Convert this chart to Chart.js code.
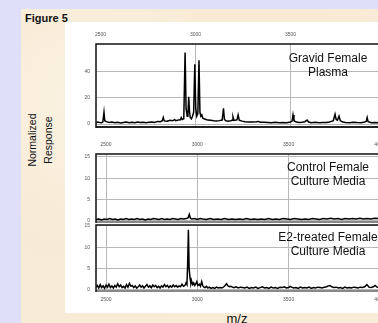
<!DOCTYPE html>
<html>
<head>
<meta charset="utf-8">
<script src="https://cdn.jsdelivr.net/npm/chart.js@4"></script>
<style>
  html, body { margin: 0; padding: 0; }
  body { width: 378px; height: 323px; overflow: hidden; position: relative; background: #dfdff9; font-family: "Liberation Sans", Arial, sans-serif; }
  .paper { position: absolute; left: 21px; top: 9px; right: 0; bottom: 0;
    background: radial-gradient(circle at 20% 30%, #fbf2e2 0, #f7ebd5 40%, #f8ecd8 100%); }
  .sheet { position: absolute; left: 65px; top: 22px; width: 340px; height: 291px; background: #fff; }
  .box { position: absolute; }
  .fig { position: absolute; left: 25px; top: 12px; font-weight: bold; font-size: 11px; color: #111; }
  .ylab { position: absolute; left: 40px; top: 140px; width: 0; height: 0; }
  .ylab div { position: absolute; left: -60px; top: -16px; width: 120px; text-align: center;
    transform: rotate(-90deg); font-size: 10.5px; line-height: 16px; color: #111; }
  .tag { position: absolute; width: 130px; text-align: center; font-size: 12px; line-height: 14px; color: #111; }
  .mz { position: absolute; left: 217px; top: 311px; width: 40px; text-align: center; font-size: 13px; color: #111; }
</style>
</head>
<body>
<div class="paper"></div>
<div class="sheet"></div>
<div class="fig">Figure 5</div>
<div class="ylab"><div>Normalized<br>Response</div></div>

<div class="box" style="left:66px;top:28px;width:334px;height:100px"><canvas id="c1"></canvas></div>
<div class="box" style="left:66px;top:138px;width:334px;height:85px"><canvas id="c2"></canvas></div>
<div class="box" style="left:66px;top:223px;width:334px;height:84px"><canvas id="c3"></canvas></div>

<div class="tag" style="left:263px;top:51px">Gravid Female<br>Plasma</div>
<div class="tag" style="left:263px;top:160px">Control Female<br>Culture Media</div>
<div class="tag" style="left:263px;top:230px">E2-treated Female<br>Culture Media</div>
<div class="mz">m/z</div>

<script>
// tick labels
const mzTicks = [2500, 3000, 3500, 4000];
const plasmaTicks = [0, 20, 40];
const mediaTicks = [0, 5, 10, 15];

// Gravid Female Plasma
const plasmaMz = [2476, 2485, 2495, 2505, 2512, 2518, 2522, 2530, 2545, 2560, 2575, 2590, 2605, 2620, 2635, 2650,
  2665, 2680, 2695, 2710, 2725, 2740, 2755, 2770, 2785, 2800, 2815, 2825, 2830, 2835, 2850, 2865, 2880, 2890, 2895,
  2910, 2920, 2925, 2930, 2938, 2945, 2950, 2956, 2960, 2964, 2968, 2972, 2978, 2984, 2990, 2996, 3001, 3006, 3012,
  3018, 3023, 3028, 3033, 3038, 3045, 3055, 3065, 3080, 3095, 3110, 3125, 3140, 3147, 3152, 3160, 3170, 3185, 3192,
  3197, 3202, 3212, 3218, 3224, 3230, 3245, 3260, 3280, 3300, 3320, 3330, 3340, 3360, 3380, 3400, 3420, 3440, 3460,
  3480, 3500, 3508, 3513, 3518, 3530, 3545, 3560, 3575, 3587, 3595, 3610, 3630, 3650, 3670, 3690, 3705, 3715, 3725,
  3734, 3740, 3747, 3755, 3762, 3775, 3790, 3810, 3830, 3850, 3870, 3890, 3898, 3903, 3908, 3925, 3945, 3965, 3985,
  4000, 4030, 4060, 4080];
const plasmaVal = [1.0, 1.5, 1.2, 1.0, 1.5, 9.0, 2.5, 1.8, 1.2, 1.5, 1.0, 1.4, 0.8, 1.2, 1.5, 0.9,
  1.3, 1.0, 1.6, 1.1, 1.4, 1.0, 1.3, 1.6, 1.2, 2.0, 1.8, 2.5, 5.0, 2.4, 2.2, 2.8, 2.5, 3.5, 2.6,
  3.0, 3.2, 5.0, 3.5, 4.0, 55, 12, 6, 8, 21, 10, 5, 4, 6, 9, 46, 12, 6, 8,
  49, 9, 6, 7, 4.5, 4, 3.5, 3, 2.8, 2.5, 2.3, 2.6, 3.0, 12, 3.5, 2.5, 2.2, 2.5, 2.8,
  5.5, 2.8, 3.0, 3.2, 7.0, 3.0, 2.2, 1.8, 1.6, 1.5, 1.8, 2.0, 1.4, 1.3, 1.2, 1.0, 1.3, 1.0, 1.2,
  1.0, 1.5, 2.2, 7.0, 2.5, 1.5, 1.2, 1.4, 1.8, 3.0, 1.5, 1.0, 1.3, 1.0, 1.2, 1.1, 1.5, 2.0, 2.5,
  7.5, 3.5, 3.0, 6.0, 2.5, 1.5, 1.2, 1.0, 1.3, 1.1, 1.0, 1.5, 2.0, 5.0, 1.8, 1.0, 1.2, 1.0, 0.9,
  1.0, 1.2, 0.9, 1.1];

// Control Female Culture Media
const controlMz = [2445, 2460, 2475, 2490, 2505, 2520, 2535, 2550, 2565, 2580, 2595, 2610, 2625, 2640, 2655, 2670,
  2685, 2700, 2715, 2730, 2745, 2760, 2775, 2790, 2805, 2820, 2835, 2850, 2865, 2880, 2895, 2910, 2925, 2940, 2950,
  2956, 2962, 2970, 2985, 3000, 3015, 3030, 3050, 3070, 3090, 3110, 3130, 3150, 3170, 3190, 3210, 3230, 3250, 3270,
  3290, 3310, 3330, 3350, 3370, 3390, 3410, 3430, 3450, 3470, 3490, 3510, 3530, 3550, 3570, 3590, 3610, 3630, 3650,
  3670, 3690, 3710, 3730, 3750, 3770, 3790, 3810, 3830, 3850, 3870, 3890, 3910, 3930, 3950, 3970, 3990, 4010, 4040,
  4070, 4110];
const controlVal = [0.3, 0.4, 0.2, 0.4, 0.3, 0.5, 0.3, 0.4, 0.2, 0.4, 0.3, 0.5, 0.3, 0.4, 0.3, 0.5,
  0.3, 0.4, 0.2, 0.4, 0.3, 0.5, 0.4, 0.3, 0.5, 0.3, 0.4, 0.3, 0.5, 0.4, 0.3, 0.5, 0.4, 0.5, 0.7,
  1.5, 0.6, 0.4, 0.5, 0.3, 0.5, 0.4, 0.3, 0.5, 0.3, 0.4, 0.3, 0.5, 0.3, 0.4, 0.3, 0.4, 0.3, 0.5,
  0.3, 0.4, 0.3, 0.4, 0.3, 0.5, 0.3, 0.4, 0.3, 0.5, 0.4, 0.3, 0.5, 0.4, 0.3, 0.4, 0.3, 0.5, 0.4,
  0.3, 0.5, 0.4, 0.6, 0.4, 0.5, 0.3, 0.5, 0.4, 0.5, 0.4, 0.6, 0.4, 0.5, 0.4, 0.6, 0.5, 0.6, 0.5,
  0.6, 0.5];

// E2-treated Female Culture Media
const e2Mz = [2445, 2452, 2460, 2468, 2476, 2484, 2492, 2500, 2508, 2516, 2524, 2532, 2540, 2548, 2556, 2564,
  2572, 2580, 2588, 2596, 2604, 2612, 2620, 2628, 2636, 2644, 2652, 2660, 2668, 2676, 2684, 2692, 2700, 2708,
  2716, 2724, 2732, 2740, 2748, 2756, 2764, 2772, 2780, 2788, 2796, 2804, 2812, 2820, 2828, 2836, 2844, 2852,
  2860, 2868, 2876, 2884, 2892, 2900, 2908, 2916, 2924, 2932, 2938, 2943, 2947, 2951, 2955, 2960, 2965, 2969,
  2975, 2980, 2986, 2992, 2997, 3003, 3011, 3017, 3024, 3030, 3036, 3042, 3050, 3058, 3066, 3075, 3085, 3095,
  3105, 3115, 3125, 3135, 3145, 3152, 3160, 3168, 3176, 3184, 3192, 3200, 3212, 3224, 3236, 3248, 3260, 3272,
  3284, 3296, 3308, 3320, 3332, 3344, 3356, 3368, 3380, 3392, 3404, 3416, 3428, 3440, 3452, 3464, 3476, 3488,
  3500, 3508, 3516, 3528, 3540, 3552, 3564, 3576, 3588, 3600, 3612, 3624, 3636, 3648, 3660, 3672, 3684, 3696,
  3708, 3718, 3727, 3736, 3748, 3760, 3772, 3784, 3796, 3808, 3820, 3832, 3844, 3856, 3868, 3880, 3892, 3904,
  3916, 3929, 3940, 3952, 3964, 3973, 3984, 3996, 4010, 4030, 4050, 4070, 4090, 4110];
const e2Val = [0.6, 1.0, 0.4, 1.2, 0.5, 0.9, 0.3, 1.1, 0.6, 1.3, 0.5, 0.9, 0.4, 1.0, 0.6, 1.4,
  0.7, 1.1, 0.5, 0.8, 0.4, 1.2, 0.6, 1.5, 0.8, 1.0, 0.5, 0.9, 0.4, 0.7, 1.1, 0.6, 0.9, 0.4,
  0.8, 1.2, 0.6, 0.9, 0.5, 1.1, 0.7, 1.0, 0.5, 0.8, 0.4, 0.9, 0.6, 1.2, 0.7, 1.0, 0.5, 0.9,
  0.6, 1.1, 0.7, 1.0, 0.6, 0.9, 0.7, 1.3, 0.8, 1.0, 1.6, 1.2, 6.0, 14.1, 5.0, 2.8, 1.4, 2.0,
  1.2, 1.6, 1.0, 1.4, 1.9, 1.0, 1.3, 0.8, 1.9, 0.9, 0.6, 0.5, 0.8, 0.4, 0.6, 0.3, 0.5, 0.3,
  0.6, 0.4, 0.5, 0.4, 0.7, 1.0, 1.4, 0.9, 0.7, 0.8, 0.6, 0.5, 0.7, 0.4, 0.6, 0.5, 0.4, 0.6,
  0.3, 0.5, 0.4, 0.6, 0.3, 0.5, 0.7, 0.4, 0.5, 0.3, 0.6, 0.4, 0.5, 0.3, 0.6, 0.5, 0.7, 0.4,
  0.5, 0.8, 0.6, 0.4, 0.5, 0.3, 0.6, 0.4, 0.5, 0.4, 0.6, 0.3, 0.5, 0.4, 0.6, 0.5, 0.4, 0.6,
  0.7, 0.9, 1.0, 0.7, 0.5, 0.6, 0.4, 0.5, 0.3, 0.6, 0.4, 0.5, 0.4, 0.6, 0.5, 0.4, 0.6, 0.5,
  0.7, 1.2, 0.6, 0.5, 0.7, 1.0, 0.6, 0.5, 0.6, 0.4, 0.6, 0.5, 0.6, 0.5];

const tickFont = { family: 'Liberation Sans', size: 5 };

// frame round the plot area: black top/left, grey bottom
const frame = {
  id: 'frame',
  afterDatasetsDraw(chart, args, opts) {
    const { ctx, chartArea: a } = chart;
    ctx.save();
    ctx.lineWidth = 2;
    ctx.strokeStyle = opts.bottomColor || '#808080';
    ctx.beginPath();
    ctx.moveTo(a.left, a.bottom);
    ctx.lineTo(a.right, a.bottom);
    ctx.stroke();
    ctx.lineWidth = 1.5;
    ctx.strokeStyle = '#111';
    ctx.beginPath();
    ctx.moveTo(a.right, a.top);
    ctx.lineTo(a.left, a.top);
    ctx.lineTo(a.left, a.bottom + 1);
    ctx.stroke();
    ctx.restore();
  }
};

function makePanel(id, mz, vals, opt) {
  return new Chart(document.getElementById(id), {
    type: 'line',
    data: {
      datasets: [{
        data: mz.map((m, i) => ({ x: m, y: vals[i] })),
        borderColor: '#000',
        borderWidth: 1.5,
        pointRadius: 0,
        tension: 0,
        fill: false
      }]
    },
    options: {
      animation: false,
      responsive: true,
      maintainAspectRatio: false,
      layout: { padding: opt.padding },
      plugins: {
        legend: { display: false },
        tooltip: { enabled: false },
        frame: { bottomColor: opt.bottomColor }
      },
      scales: {
        x: {
          type: 'linear',
          position: opt.xPos,
          min: opt.xMin,
          max: opt.xMax,
          afterBuildTicks: s => { s.ticks = mzTicks.map(v => ({ value: v })); },
          afterFit: s => { s.height = 16; },
          grid: {
            // the plasma panel has no grid line at 2500
            color: c => (opt.hideFirstGrid && c.tick && c.tick.value === 2500) ? 'rgba(0,0,0,0)' : '#b8b8b8',
            lineWidth: 1,
            drawTicks: false
          },
          border: { display: false },
          ticks: { font: tickFont, color: '#555', padding: 6, maxRotation: 0, autoSkip: false, callback: v => String(v) }
        },
        y: {
          min: opt.yMin,
          max: opt.yMax,
          afterBuildTicks: s => { s.ticks = opt.yTicks.map(v => ({ value: v })); },
          afterFit: s => { s.width = 30; s.paddingTop = 0; s.paddingBottom = 0; },
          grid: { color: '#b8b8b8', lineWidth: 1, drawTicks: false },
          border: { display: false },
          ticks: { font: tickFont, color: '#555', padding: 6, callback: v => String(v) }
        }
      }
    },
    plugins: [frame]
  });
}

makePanel('c1', plasmaMz, plasmaVal, {
  xPos: 'top', xMin: 2476, xMax: 4076, yMin: -2.3, yMax: 61.5, yTicks: plasmaTicks, hideFirstGrid: true,
  padding: { top: 0, bottom: 1, left: 0, right: 0 }, bottomColor: '#222'
});
makePanel('c2', controlMz, controlVal, {
  xPos: 'top', xMin: 2445, xMax: 4110, yMin: -0.3, yMax: 15.7, yTicks: mediaTicks,
  padding: { top: 0, bottom: 1, left: 0, right: 0 }, bottomColor: '#888'
});
makePanel('c3', e2Mz, e2Val, {
  xPos: 'bottom', xMin: 2445, xMax: 4110, yMin: -0.3, yMax: 15.2, yTicks: mediaTicks,
  padding: { top: 2, bottom: 0, left: 0, right: 0 }, bottomColor: '#888'
});
</script>
</body>
</html>
